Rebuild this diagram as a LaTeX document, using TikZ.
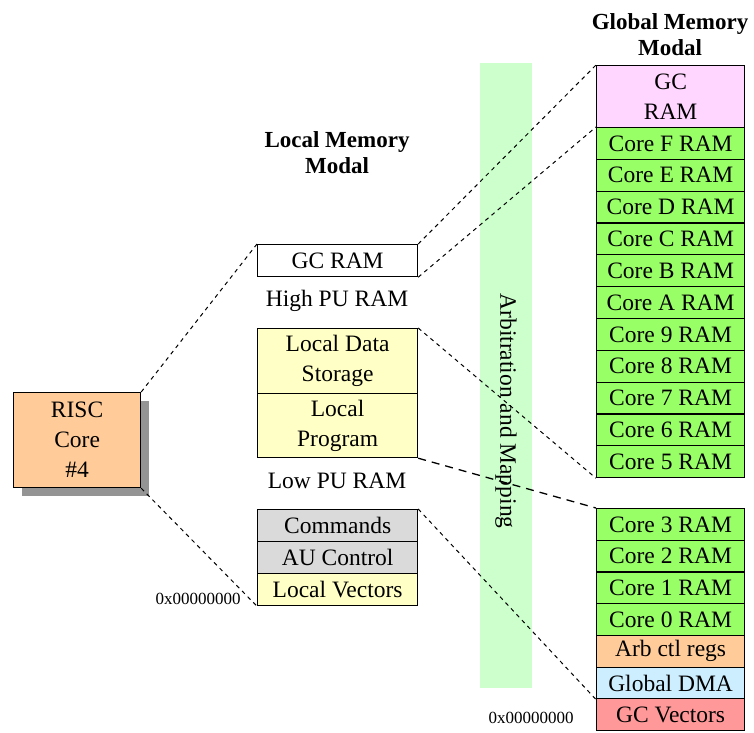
\documentclass[tikz,border=0pt]{standalone}
\usepackage{fontspec}
\setmainfont{Liberation Serif}
\usetikzlibrary{shadows}
\definecolor{cgreen}{HTML}{99FF66}
\definecolor{cband}{HTML}{CCFFCC}
\definecolor{cpink}{HTML}{FFD6FF}
\definecolor{corange}{HTML}{FFCC99}
\definecolor{cblue}{HTML}{CCEEFF}
\definecolor{cred}{HTML}{FF9999}
\definecolor{cyellow}{HTML}{FFFFC6}
\definecolor{cgray}{HTML}{DADADA}
\begin{document}
\begin{tikzpicture}[x=1pt,y=-1pt,
  txt/.style={font=\fontsize{23.5}{30}\selectfont, align=center},
  gcell/.style={draw, line width=1.2pt, minimum width=148pt, minimum height=31.8pt, inner sep=0pt, anchor=north west, txt},
  lcell/.style={draw, line width=1.2pt, minimum width=160pt, minimum height=32pt, inner sep=0pt, anchor=north west, txt},
  title/.style={font=\fontsize{23}{26}\selectfont\bfseries, align=center},
  addr/.style={font=\fontsize{17}{18}\selectfont, inner sep=0pt},
  dl/.style={line width=1pt, dash pattern=on 4pt off 4pt},
  dlong/.style={line width=1.3pt, dash pattern=on 8pt off 6pt}]
\useasboundingbox (0,0) rectangle (754,732);
% arbitration band
\fill[cband] (480,63) rectangle (532,688);
\node[txt, rotate=-90] (arb) at (506,411) {Arbitration and Mapping};
% titles
\node[title] (ltitle) at (337,153) {Local Memory\\Modal};
\node[title] (gtitle) at (670,35) {Global Memory\\Modal};
% RISC core
\node[draw, line width=1.2pt, fill=corange, minimum width=127pt, minimum height=95pt, inner sep=0pt, anchor=north west, txt,
  drop shadow={shadow xshift=8pt, shadow yshift=-8pt, fill=black!42, opacity=1}] (risc) at (13,392) {RISC\\Core\\\#4};
% local memory column
\node[lcell, fill=white] (lgc) at (257,244) {GC RAM};
\node[txt] (high) at (337,301) {High PU RAM};
\node[lcell, fill=cyellow, minimum height=65pt] (lds) at (257,328) {Local Data\\Storage};
\node[lcell, fill=cyellow, minimum height=64pt] (lp) at (257,393) {Local\\Program};
\node[txt] (low) at (337,481) {Low PU RAM};
\node[lcell, fill=cgray] (cmd) at (257,509) {Commands};
\node[lcell, fill=cgray] (auc) at (257,541) {AU Control};
\node[lcell, fill=cyellow] (lv) at (257,573) {Local Vectors};
\node[addr] (laddr) at (198,599) {0x00000000};
% global memory column
\node[gcell, fill=cpink, minimum height=62pt] (ggc) at (596,65) {GC\\RAM};
\foreach [count=\i from 0] \t in {F,E,D,C,B,A,9,8,7,6,5}
  \node[gcell, fill=cgreen] (c\t) at (596,127+\i*31.82) {Core \t\ RAM};
\foreach [count=\i from 0] \t in {3,2,1,0}
  \node[gcell, fill=cgreen] (c\t) at (596,508+\i*31.7) {Core \t\ RAM};
\node[gcell, fill=corange] (arbreg) at (596,634.8) {Arb ctl regs};
\node[gcell, fill=cblue] (gdma) at (596,666.5) {Global DMA};
\node[gcell, fill=cred] (gcv) at (596,698.2) {GC Vectors};
\node[addr] (gaddr) at (531,718) {0x00000000};
% connectors
\draw[dl] (risc.north east) -- (lgc.north west);
\draw[dl] (risc.south east) -- (lv.south west);
\draw[dl] (lgc.north east) -- (ggc.north west);
\draw[dl] (lgc.south east) -- (cF.north west);
\draw[dl] (lds.north east) -- (c5.south west);
\draw[dlong] (lp.south east) -- (c3.north west);
\draw[dl] (cmd.north east) -- (gdma.south west);
\end{tikzpicture}
\end{document}
